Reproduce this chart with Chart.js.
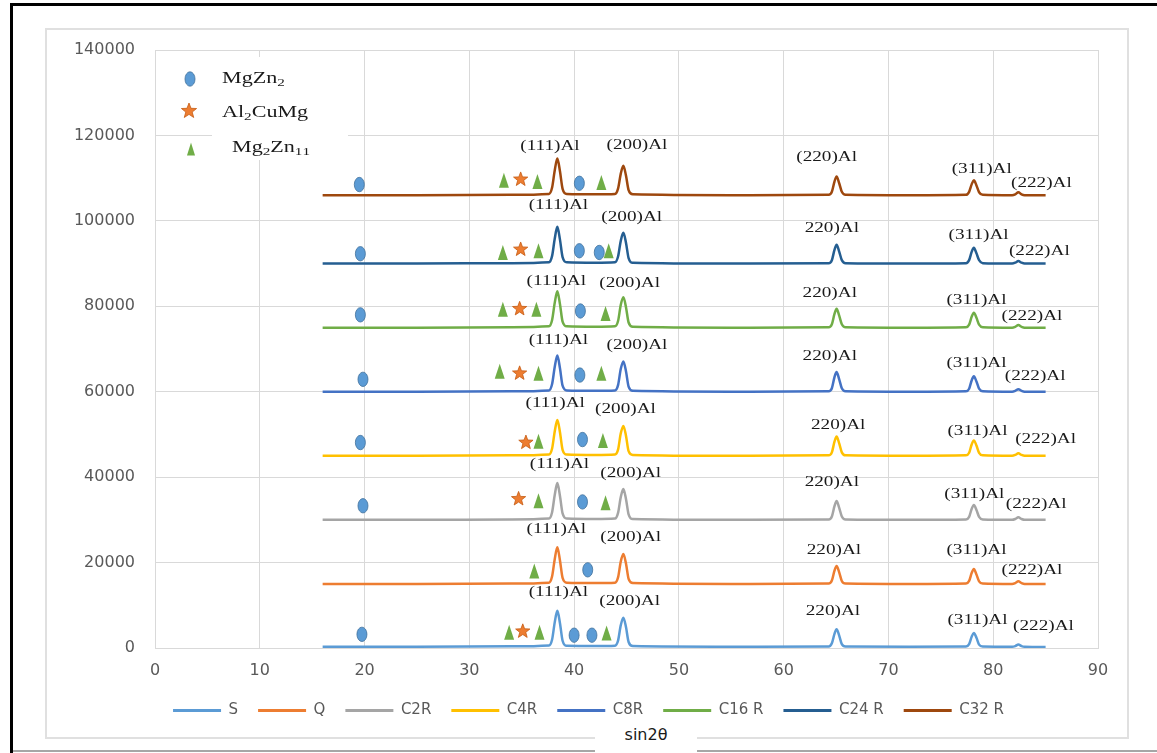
<!DOCTYPE html>
<html>
<head>
<meta charset="utf-8">
<title>XRD patterns</title>
<script src="https://cdn.jsdelivr.net/npm/chart.js@4.4.1/dist/chart.umd.min.js"></script>
<style>
  html, body { margin: 0; padding: 0; background: #fff; overflow: hidden; }
  #wrap { position: relative; width: 1157px; height: 753px; overflow: hidden; }
  .frame { position: absolute; left: 10px; top: 3px; width: 1200px; height: 800px;
           border-left: 3px solid #000; border-top: 3px solid #000; }
  .bottomLine { position: absolute; left: 13px; top: 750px; width: 1150px; height: 2px; background: #a6a6a6; }
  .outer { position: absolute; left: 45px; top: 28px; width: 1080px; height: 707px; border: 2px solid #e0e0e0; }
  canvas { position: absolute; left: 0; top: 0; }
  #xTitle { position: absolute; left: 595px; top: 722px; width: 102px; height: 31px; background: #fff;
            font: 16px 'DejaVu Sans', sans-serif; color: #1a1a1a; text-align: center; line-height: 26px; z-index: 2; }
</style>
</head>
<body>
<div id="wrap">
  <div class="frame"></div>
  <div class="bottomLine"></div>
  <div class="outer"></div>
  <canvas id="xrd" width="1157" height="753"></canvas>
  <div id="xTitle">sin2θ</div>
</div>
<script>
// 2θ sample positions shared by all patterns
const twoTheta = [16, 25, 34, 37.6, 37.9, 38.15, 38.4, 38.65, 38.9, 39.3, 42, 43.9, 44.2, 44.45, 44.7, 44.95, 45.2, 45.6, 55,
  64.3, 64.6, 64.85, 65.05, 65.3, 65.55, 65.9, 72, 77.4, 77.7, 77.95, 78.15, 78.4, 78.65, 79.0, 81.8, 82.1, 82.4, 82.7, 83.0, 85];

const seriesNames = ['S', 'Q', 'C2R', 'C4R', 'C8R', 'C16 R', 'C24 R', 'C32 R'];

const sValues = [300, 300, 400, 600, 2000, 6000, 8700, 5800, 1700, 500, 450, 550, 1800, 5300, 7100, 4900, 1400, 450, 300,
  350, 1100, 3300, 4400, 2900, 900, 350, 300, 350, 900, 2700, 3500, 2400, 800, 350, 300, 450, 800, 450, 300, 250];
const qValues = [15000, 15000, 15100, 15300, 16800, 20800, 23600, 20500, 16400, 15300, 15200, 15300, 16600, 20200, 22000, 19800, 16200, 15200, 15000,
  15100, 15800, 18100, 19200, 17700, 15700, 15100, 15000, 15100, 15700, 17600, 18500, 17200, 15600, 15100, 15000, 15200, 15600, 15200, 15000, 15000];
const c2rValues = [30000, 30000, 30100, 30300, 31800, 35800, 38600, 35600, 31500, 30300, 30200, 30300, 31700, 35300, 37200, 34900, 31300, 30200, 30000,
  30100, 30800, 33200, 34400, 32800, 30800, 30100, 30000, 30100, 30700, 32600, 33500, 32300, 30700, 30100, 30000, 30200, 30600, 30200, 30000, 30000];
const c4rValues = [45000, 45000, 45100, 45300, 46700, 50700, 53400, 50500, 46400, 45300, 45200, 45300, 46500, 50200, 52000, 49700, 46100, 45200, 45000,
  45100, 45800, 48300, 49500, 47900, 45800, 45100, 45000, 45100, 45700, 47700, 48600, 47400, 45700, 45100, 45000, 45200, 45600, 45200, 45000, 45000];
const c8rValues = [60000, 60000, 60100, 60300, 61800, 65800, 68500, 65500, 61400, 60300, 60200, 60300, 61600, 65300, 67100, 64800, 61200, 60200, 60000,
  60100, 60800, 63400, 64600, 62900, 60800, 60100, 60000, 60100, 60700, 62700, 63600, 62400, 60700, 60100, 60000, 60200, 60600, 60200, 60000, 60000];
const c16rValues = [75000, 75000, 75100, 75300, 76800, 80800, 83500, 80500, 76400, 75300, 75200, 75300, 76600, 80300, 82100, 79800, 76200, 75200, 75000,
  75100, 75800, 78200, 79400, 77800, 75800, 75100, 75000, 75100, 75700, 77600, 78500, 77300, 75700, 75100, 75000, 75200, 75600, 75200, 75000, 75000];
const c24rValues = [90000, 90000, 90100, 90300, 91800, 95800, 98600, 95600, 91500, 90300, 90200, 90300, 91700, 95300, 97200, 94900, 91300, 90200, 90000,
  90100, 90800, 93200, 94400, 92800, 90800, 90100, 90000, 90100, 90800, 92800, 93700, 92400, 90800, 90100, 90000, 90200, 90600, 90200, 90000, 90000];
const c32rValues = [106000, 106000, 106100, 106300, 107800, 111800, 114600, 111600, 107500, 106300, 106200, 106300, 107600, 111000, 112900, 110600, 107200, 106200, 106000,
  106100, 106800, 109200, 110400, 108800, 106800, 106100, 106000, 106100, 106800, 108600, 109500, 108300, 106700, 106100, 106000, 106200, 106700, 106200, 106000, 106000];

// phase markers [2θ, y]
const mgZn2Points = [
  [19.5, 108500], [40.5, 108800],
  [19.6, 92300], [40.5, 93000], [42.4, 92600],
  [19.6, 78000], [40.6, 78900],
  [19.85, 62900], [40.55, 63900],
  [19.6, 48100], [40.8, 48800],
  [19.85, 33300], [40.8, 34200],
  [41.3, 18300],
  [19.75, 3200], [40.0, 3000], [41.7, 3000]
];
const al2CuMgPoints = [
  [34.9, 109700], [34.9, 93300], [34.8, 79400], [34.8, 64300], [35.4, 48100], [34.7, 34900], [35.1, 3900]
];
const mg2Zn11Points = [
  [33.3, 109500], [36.5, 109200], [42.6, 109000],
  [33.2, 92600], [36.6, 93000], [43.3, 93000],
  [33.2, 79300], [36.4, 79300], [43.0, 78300],
  [32.9, 64800], [36.6, 64300], [42.6, 64300],
  [36.6, 48400], [42.75, 48600],
  [36.6, 34500], [43.0, 34000],
  [36.2, 18000],
  [33.8, 3700], [36.7, 3700], [43.1, 3500]
];
const phaseNames = ['MgZn2', 'Al2CuMg', 'Mg2Zn11'];

// peak labels [text, 2θ, y]
const peakLabels = [
  ['(111)Al', 37.7, 117400], ['(200)Al', 46.0, 117800], ['(220)Al', 64.1, 115000], ['(311)Al', 78.9, 112200], ['(222)Al', 84.6, 108800],
  ['(111)Al', 38.5, 103700], ['(200)Al', 45.5, 100900], ['220)Al', 64.6, 98300], ['(311)Al', 78.6, 96700], ['(222)Al', 84.4, 93000],
  ['(111)Al', 38.3, 85800], ['(200)Al', 45.3, 85400], ['220)Al', 64.4, 83100], ['(311)Al', 78.4, 81500], ['(222)Al', 83.7, 77700],
  ['(111)Al', 38.5, 72200], ['(200)Al', 46.0, 71000], ['220)Al', 64.4, 68300], ['(311)Al', 78.4, 66600], ['(222)Al', 84.0, 63600],
  ['(111)Al', 38.2, 57400], ['(200)Al', 44.9, 56000], ['220)Al', 65.2, 52100], ['(311)Al', 78.5, 50900], ['(222)Al', 85.0, 48800],
  ['(111)Al', 38.6, 43000], ['(200)Al', 45.4, 41000], ['220)Al', 64.6, 38900], ['(311)Al', 78.2, 36100], ['(222)Al', 84.1, 33800],
  ['(111)Al', 38.3, 27800], ['(200)Al', 45.4, 25900], ['220)Al', 64.8, 22900], ['(311)Al', 78.4, 22900], ['(222)Al', 83.7, 18300],
  ['(111)Al', 38.5, 13200], ['(200)Al', 45.3, 11100], ['220)Al', 64.7, 8600], ['(311)Al', 78.5, 6500], ['(222)Al', 84.8, 5100]
];

const seriesValues = [sValues, qValues, c2rValues, c4rValues, c8rValues, c16rValues, c24rValues, c32rValues];
const seriesColors = ['#5B9BD5', '#ED7D31', '#A5A5A5', '#FFC000', '#4472C4', '#70AD47', '#255E91', '#9E480E'];

const SERIF = "'Liberation Serif', 'Times New Roman', serif";

function drawEllipse(ctx, cx, cy) {
  ctx.save();
  ctx.beginPath();
  ctx.ellipse(cx, cy, 5, 7.2, 0, 0, Math.PI * 2);
  ctx.fillStyle = '#5B9BD5';
  ctx.fill();
  ctx.lineWidth = 0.8;
  ctx.strokeStyle = '#41719C';
  ctx.stroke();
  ctx.restore();
}

function drawStar(ctx, cx, cy, r) {
  r = r || 7.5;
  ctx.save();
  ctx.beginPath();
  for (let i = 0; i < 10; i++) {
    const rad = i % 2 === 0 ? r : r * 0.42;
    const ang = -Math.PI / 2 + i * Math.PI / 5;
    const px = cx + rad * Math.cos(ang), py = cy + rad * Math.sin(ang);
    if (i === 0) ctx.moveTo(px, py); else ctx.lineTo(px, py);
  }
  ctx.closePath();
  ctx.fillStyle = '#ED7D31';
  ctx.fill();
  ctx.lineWidth = 0.8;
  ctx.strokeStyle = '#C55A11';
  ctx.stroke();
  ctx.restore();
}

function drawTriangle(ctx, cx, cy, w, h) {
  w = w || 10; h = h || 15;
  ctx.save();
  ctx.beginPath();
  ctx.moveTo(cx, cy - h / 2);
  ctx.lineTo(cx + w / 2, cy + h / 2);
  ctx.lineTo(cx - w / 2, cy + h / 2);
  ctx.closePath();
  ctx.fillStyle = '#70AD47';
  ctx.fill();
  ctx.restore();
}

function drawLabel(ctx, text, px, py) {
  ctx.save();
  ctx.translate(px, py);
  ctx.scale(1.28, 1);
  ctx.font = '15px ' + SERIF;
  ctx.fillStyle = '#1a1a1a';
  ctx.textAlign = 'center';
  ctx.textBaseline = 'middle';
  ctx.fillText(text, 0, 0);
  ctx.restore();
}

// digits rendered as subscripts
function drawFormula(ctx, text, px, py) {
  ctx.save();
  ctx.translate(px, py);
  ctx.scale(1.38, 1);
  ctx.fillStyle = '#1a1a1a';
  ctx.textBaseline = 'alphabetic';
  let cur = 0;
  for (const ch of text) {
    const sub = /[0-9]/.test(ch);
    ctx.font = (sub ? '11px ' : '16px ') + SERIF;
    ctx.fillText(ch, cur, sub ? 8 : 5);
    cur += ctx.measureText(ch).width;
  }
  ctx.restore();
}

const phasePlugin = {
  id: 'phases',
  afterLayout(chart) {
    // the key row sits centred on the outer frame, not on the canvas
    chart.legend.left += 17;
    chart.legend.right += 17;
  },
  beforeDatasetsDraw(chart) {
    const { ctx, chartArea: a } = chart;
    ctx.save();
    ctx.fillStyle = '#fff';
    ctx.fillRect(a.left + 57, a.top + 7, 136, 103);
    ctx.restore();
  },
  afterDatasetsDraw(chart) {
    const { ctx, chartArea: a, scales: { x, y } } = chart;
    mgZn2Points.forEach(p => drawEllipse(ctx, x.getPixelForValue(p[0]), y.getPixelForValue(p[1])));
    al2CuMgPoints.forEach(p => drawStar(ctx, x.getPixelForValue(p[0]), y.getPixelForValue(p[1])));
    mg2Zn11Points.forEach(p => drawTriangle(ctx, x.getPixelForValue(p[0]), y.getPixelForValue(p[1])));
    peakLabels.forEach(l => drawLabel(ctx, l[0], x.getPixelForValue(l[1]), y.getPixelForValue(l[2])));

    // phase key, top-left of the plot
    drawEllipse(ctx, a.left + 35, a.top + 29);
    drawStar(ctx, a.left + 34, a.top + 61, 8);
    drawTriangle(ctx, a.left + 36, a.top + 99, 8, 13);
    drawFormula(ctx, phaseNames[0], a.left + 67, a.top + 28);
    drawFormula(ctx, phaseNames[1], a.left + 67, a.top + 62);
    drawFormula(ctx, phaseNames[2], a.left + 77, a.top + 97);
  }
};

const datasets = seriesValues.map((vals, i) => ({
  label: seriesNames[i],
  data: vals.map((v, k) => ({ x: twoTheta[k], y: v })),
  borderColor: seriesColors[i],
  backgroundColor: seriesColors[i],
  borderWidth: 2.5,
  pointRadius: 0,
  cubicInterpolationMode: 'monotone',
  fill: false
}));

const tickFont = { family: 'DejaVu Sans', size: 16 };

new Chart(document.getElementById('xrd').getContext('2d'), {
  type: 'line',
  data: { datasets },
  options: {
    responsive: false,
    animation: false,
    devicePixelRatio: 1,
    layout: { padding: { left: 45, right: 59, top: 50, bottom: 25 } },
    scales: {
      x: {
        type: 'linear',
        min: 0,
        max: 90,
        ticks: { stepSize: 10, padding: 13, color: '#595959', font: tickFont, maxRotation: 0 },
        grid: { color: '#d9d9d9', drawTicks: false },
        border: { color: '#d9d9d9' },
        afterFit: s => { s.height = 35; }
      },
      y: {
        min: 0,
        max: 140000,
        ticks: { stepSize: 20000, padding: 20, color: '#595959', font: tickFont, callback: v => String(v) },
        grid: { color: '#d9d9d9', drawTicks: false },
        border: { color: '#d9d9d9' },
        afterFit: s => { s.width = 110; }
      }
    },
    plugins: {
      legend: {
        position: 'bottom',
        labels: {
          boxWidth: 48,
          boxHeight: 3,
          padding: 20,
          color: '#595959',
          font: { family: 'DejaVu Sans', size: 15 },
          generateLabels(chart) {
            const items = Chart.defaults.plugins.legend.labels.generateLabels(chart);
            items.forEach(it => { it.lineWidth = 0; });
            return items;
          }
        }
      },
      tooltip: { enabled: false }
    }
  },
  plugins: [phasePlugin]
});
</script>
</body>
</html>
